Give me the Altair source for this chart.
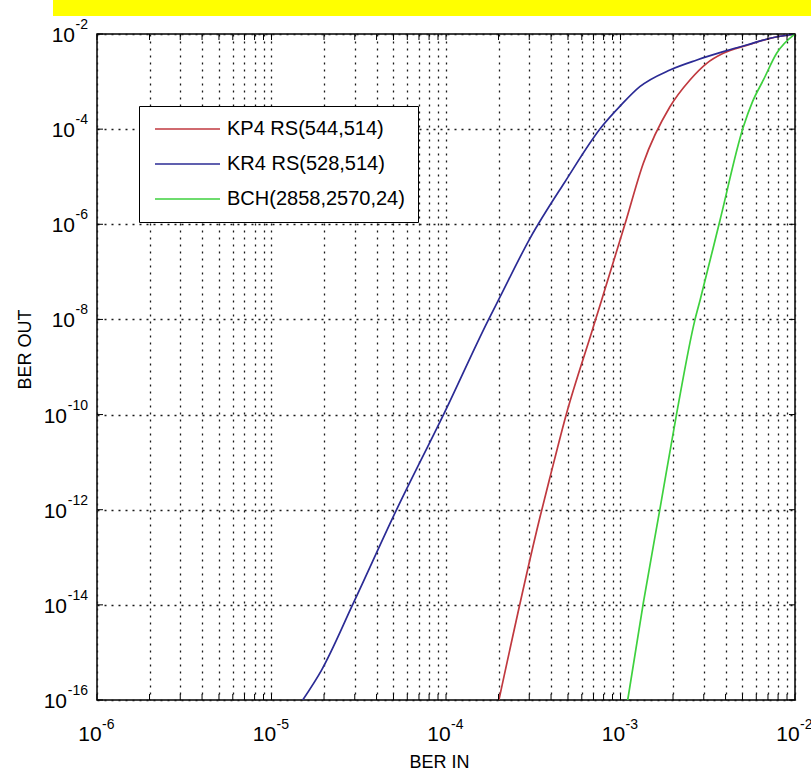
import altair as alt
import pandas as pd

# ---- data (BER IN, BER OUT) ----
SERIES = ["KP4 RS(544,514)", "KR4 RS(528,514)", "BCH(2858,2570,24)"]
COLORS = ["#c0393f", "#2b2b95", "#3ed13e"]

kp4_in = [2.01e-4, 3.46e-4, 3.95e-4, 4.91e-4, 6.9e-4, 7.8e-4, 1.06e-3, 1.35e-3,
          1.92e-3, 2.5e-3, 3.12e-3, 3.88e-3, 5.28e-3, 7.2e-3, 1e-2]
kp4_out = [1e-16, 7.1e-13, 4.9e-12, 1.07e-10, 6.0e-9, 2.57e-8, 1e-6, 1.9e-5,
           2.95e-4, 1.08e-3, 2.42e-3, 3.93e-3, 5.75e-3, 8.1e-3, 1e-2]

kr4_in = [1.51e-5, 1.94e-5, 2.94e-5, 5.21e-5, 9.77e-5, 1.75e-4, 2.0e-4, 3.03e-4,
          4.81e-4, 7.8e-4, 1.01e-3, 1.29e-3, 1.92e-3, 2.74e-3, 3.88e-3, 5.28e-3,
          7.2e-3, 1e-2]
kr4_out = [1e-16, 4.3e-16, 1.07e-14, 1e-12, 1.07e-10, 9.8e-9, 2.57e-8, 5.07e-7,
           7.85e-6, 1.12e-4, 3.24e-4, 7.8e-4, 1.75e-3, 2.84e-3, 4.25e-3, 5.87e-3,
           8.13e-3, 1e-2]

bch_in = [1.1e-3, 1.35e-3, 1.68e-3, 2.1e-3, 2.67e-3, 2.86e-3, 3.72e-3, 5.06e-3,
          5.71e-3, 6.59e-3, 7.85e-3, 1e-2]
bch_out = [1e-16, 1.07e-14, 1e-12, 1.07e-10, 9.8e-9, 2.57e-8, 1.23e-6, 1.12e-4,
           3.78e-4, 1.08e-3, 3.93e-3, 1e-2]

# tick positions and tick label texts
x_ticks = [m * 10.0 ** k for k in range(-6, -2) for m in range(1, 10)] + [1e-2]
x_label_vals = [1e-6, 1e-5, 1e-4, 1e-3, 1e-2]
x_label_exps = ["-6", "-5", "-4", "-3", "-2"]
y_label_vals = [1e-16, 1e-14, 1e-12, 1e-10, 1e-8, 1e-6, 1e-4, 1e-2]
y_label_exps = ["-16", "-14", "-12", "-10", "-8", "-6", "-4", "-2"]
BASE = "10"

rows = []
for name, xs, ys in zip(SERIES, [kp4_in, kr4_in, bch_in], [kp4_out, kr4_out, bch_out]):
    for i, (a, b) in enumerate(zip(xs, ys)):
        rows.append({"code": name, "ber_in": a, "ber_out": b, "idx": i})
df = pd.DataFrame(rows)

W, H = 698, 666
FONT = "Liberation Sans"
FS_BASE, FS_EXP = 21, 14

xscale = alt.Scale(type="log", domain=[1e-6, 1e-2], nice=False)
yscale = alt.Scale(type="log", domain=[1e-16, 1e-2], nice=False)

xaxis = alt.Axis(values=x_ticks, labels=False, title="BER IN", titlePadding=53, titleX=342)
yaxis = alt.Axis(values=y_label_vals, labels=False, title="BER OUT", titlePadding=63,
                 titleY=315)

lines = alt.Chart(df).mark_line(strokeWidth=1.7, clip=True, interpolate="monotone").encode(
    x=alt.X("ber_in:Q", scale=xscale, axis=xaxis),
    y=alt.Y("ber_out:Q", scale=yscale, axis=yaxis),
    color=alt.Color(
        "code:N",
        scale=alt.Scale(domain=SERIES, range=COLORS),
        sort=SERIES,
        legend=alt.Legend(
            title=None, orient="none", legendX=42, legendY=72,
            symbolType="M-0.875,0H7.25", symbolSize=256, symbolStrokeWidth=1.7,
            labelFont=FONT, labelFontSize=20, labelColor="black", labelLimit=400,
            labelOffset=55, rowPadding=15, padding=13,
            strokeColor="black", fillColor="white",
        ),
    ),
    order="idx:Q",
    detail="code:N",
)

# inward tick marks on all four sides
xt = pd.DataFrame({"ber_in": x_ticks})
yt = pd.DataFrame({"ber_out": y_label_vals})
TL = 6
xtick_b = alt.Chart(xt).mark_rule(color="black", strokeWidth=1).encode(
    x=alt.X("ber_in:Q", scale=xscale), y=alt.value(H), y2=alt.value(H - TL))
xtick_t = alt.Chart(xt).mark_rule(color="black", strokeWidth=1).encode(
    x=alt.X("ber_in:Q", scale=xscale), y=alt.value(0), y2=alt.value(TL))
ytick_l = alt.Chart(yt).mark_rule(color="black", strokeWidth=1).encode(
    y=alt.Y("ber_out:Q", scale=yscale), x=alt.value(0), x2=alt.value(TL))
ytick_r = alt.Chart(yt).mark_rule(color="black", strokeWidth=1).encode(
    y=alt.Y("ber_out:Q", scale=yscale), x=alt.value(W), x2=alt.value(W - TL))

# tick labels "10" with a raised exponent
xl = pd.DataFrame({"ber_in": x_label_vals, "exp": x_label_exps})
yl = pd.DataFrame({"ber_out": y_label_vals, "exp": y_label_exps})

x_base = alt.Chart(xl).mark_text(font=FONT, fontSize=FS_BASE, align="center",
                                 baseline="middle", dx=-7, color="black").encode(
    x=alt.X("ber_in:Q", scale=xscale), y=alt.value(H + 35), text=alt.value(BASE))
x_exp = alt.Chart(xl).mark_text(font=FONT, fontSize=FS_EXP, align="left",
                                baseline="middle", dx=5, color="black").encode(
    x=alt.X("ber_in:Q", scale=xscale), y=alt.value(H + 25), text="exp:N")

y_exp = alt.Chart(yl).mark_text(font=FONT, fontSize=FS_EXP, align="right",
                                baseline="middle", dy=-9, color="black").encode(
    y=alt.Y("ber_out:Q", scale=yscale), x=alt.value(-9), text="exp:N")
y_base1 = alt.Chart(yl).transform_filter("length(datum.exp) <= 2").mark_text(
    font=FONT, fontSize=FS_BASE, align="right", baseline="middle", dy=2, color="black"
).encode(y=alt.Y("ber_out:Q", scale=yscale), x=alt.value(-22), text=alt.value(BASE))
y_base2 = alt.Chart(yl).transform_filter("length(datum.exp) > 2").mark_text(
    font=FONT, fontSize=FS_BASE, align="right", baseline="middle", dy=2, color="black"
).encode(y=alt.Y("ber_out:Q", scale=yscale), x=alt.value(-30), text=alt.value(BASE))

banner = alt.Chart(pd.DataFrame({"a": [0]})).mark_rect(color="#ffff00").encode(
    x=alt.value(-44), x2=alt.value(W + 16), y=alt.value(-34), y2=alt.value(-18))

chart = alt.layer(
    lines, xtick_b, xtick_t, ytick_l, ytick_r,
    x_base, x_exp, y_exp, y_base1, y_base2, banner
).properties(
    width=W, height=H,
    background="white",
    autosize=alt.AutoSizeParams(type="none"),
    padding={"left": 97, "top": 34, "right": 16, "bottom": 75},
).configure_view(
    stroke="black", strokeWidth=1.5, fill="white"
).configure_axis(
    labels=False,
    titleFont=FONT, titleFontSize=18, titleFontWeight="normal", titleColor="black",
    domain=False, ticks=False, grid=True,
    gridDash=[2, 5], gridColor="#1a1a1a", gridWidth=1.3, gridOpacity=1,
)

chart.save("out.html", embed_options={"renderer": "svg", "actions": False})
